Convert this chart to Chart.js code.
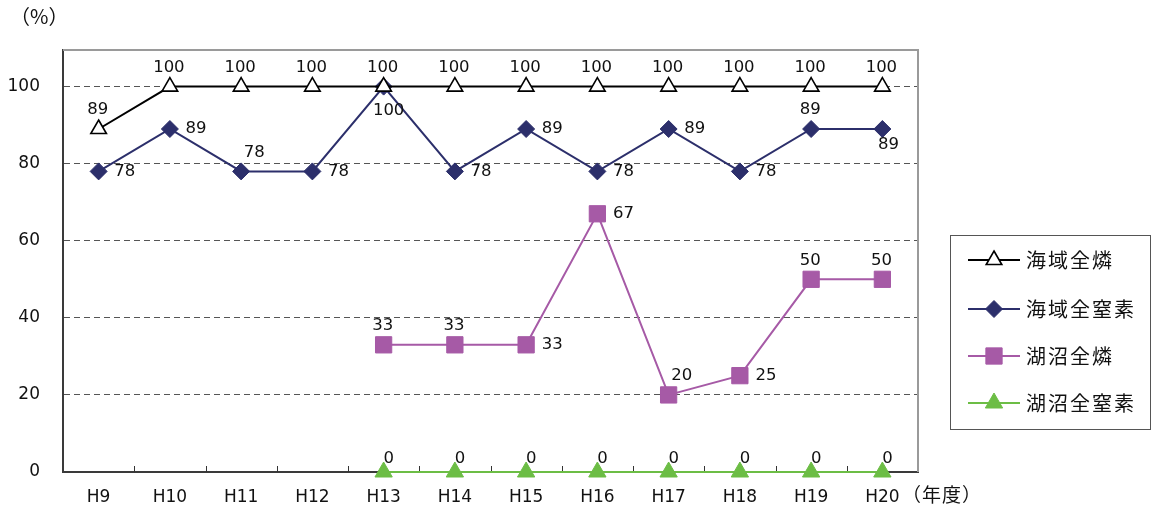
<!DOCTYPE html>
<html><head><meta charset="utf-8">
<script src="https://cdn.jsdelivr.net/npm/chart.js@4/dist/chart.umd.min.js"></script>
<style>html,body{margin:0;padding:0;background:#fff;}#wrap{position:relative;width:1155px;height:511px;}</style>
</head><body><div id="wrap"><canvas id="c" width="1155" height="511"></canvas></div>
<script>
// ---- data ----
const categories = ['H9','H10','H11','H12','H13','H14','H15','H16','H17','H18','H19','H20'];
const seriesNames = ['海域全燐','海域全窒素','湖沼全燐','湖沼全窒素'];
const seaP  = [89,100,100,100,100,100,100,100,100,100,100,100];
const seaN  = [78,89,78,78,100,78,89,78,89,78,89,89];
const lakeP = [null,null,null,null,33,33,33,67,20,25,50,50];
const lakeN = [null,null,null,null,0,0,0,0,0,0,0,0];
const yTickValues = [0,20,40,60,80,100];
const yUnitLabel = '（%）';
const xUnitLabel = '（年度）';
// label placement codes per point
const seaPPos  = ['t','t','t','t','t','t','t','t','t','t','t','t'];
const seaNPos  = ['r','r','tr','r','b','r','r','r','r','r','t','br'];
const lakePPos = [null,null,null,null,'t','t','r','r','tr','r','t','t'];
const lakeNPos = [null,null,null,null,'z','z','z','z','z','z','z','z'];

const FONT = '"Noto Sans CJK JP", "Noto Sans", sans-serif';
const NUMFONT = '"DejaVu Sans", sans-serif';
const OFF = {t:[-1,-19], r:[26,0], tr:[13,-19], b:[5,24], br:[6,16], z:[5,-13]};
const labelPos = [seaPPos, seaNPos, lakePPos, lakeNPos];

const styles = [
  {color:'#000000', style:'triangle', fill:'#ffffff', radius:9, bw:1.6},
  {color:'#2c2f6b', style:'rectRot', fill:'#2c2f6b', radius:8.5, bw:1},
  {color:'#a65aa6', style:'rect', fill:'#a65aa6', radius:11.5, bw:1},
  {color:'#6cbd45', style:'triangle', fill:'#6cbd45', radius:10, bw:1}
];
const values = [seaP, seaN, lakeP, lakeN];

function drawMarker(ctx, s, x, y){
  ctx.save();
  ctx.fillStyle = s.fill; ctx.strokeStyle = s.color; ctx.lineWidth = s.bw;
  ctx.beginPath();
  const r = s.radius;
  if (s.style === 'triangle'){
    ctx.moveTo(x, y - r);
    ctx.lineTo(x + r*Math.sin(2*Math.PI/3), y - r*Math.cos(2*Math.PI/3));
    ctx.lineTo(x - r*Math.sin(2*Math.PI/3), y - r*Math.cos(2*Math.PI/3));
  } else if (s.style === 'rectRot'){
    ctx.moveTo(x, y - r); ctx.lineTo(x + r, y); ctx.lineTo(x, y + r); ctx.lineTo(x - r, y);
  } else {
    const h = r*Math.SQRT1_2;
    ctx.rect(x-h, y-h, 2*h, 2*h);
  }
  ctx.closePath(); ctx.fill(); ctx.stroke();
  ctx.restore();
}

const extras = {
  id:'extras',
  beforeDatasetsDraw(chart){
    const {ctx, chartArea:a, scales:{x}} = chart;
    ctx.save();
    ctx.strokeStyle = '#9a9a9a'; ctx.lineWidth = 2;
    ctx.beginPath();
    ctx.moveTo(a.left, a.top); ctx.lineTo(a.right, a.top); ctx.lineTo(a.right, a.bottom);
    ctx.stroke();
    ctx.strokeStyle = '#333'; ctx.lineWidth = 1;
    for (let i = 1; i < categories.length; i++){
      const px = Math.round((x.getPixelForValue(i-1) + x.getPixelForValue(i))/2) + 0.5;
      ctx.beginPath(); ctx.moveTo(px, a.bottom); ctx.lineTo(px, a.bottom - 6); ctx.stroke();
    }
    ctx.restore();
  },
  afterDatasetsDraw(chart){
    const ctx = chart.ctx;
    ctx.save();
    ctx.font = '16.5px ' + NUMFONT;
    ctx.fillStyle = '#111';
    ctx.textAlign = 'center'; ctx.textBaseline = 'middle';
    chart.data.datasets.forEach((ds, di) => {
      const meta = chart.getDatasetMeta(di);
      meta.data.forEach((pt, i) => {
        const v = ds.data[i];
        if (v === null || v === undefined) return;
        const o = OFF[labelPos[di][i]] || OFF.t;
        ctx.fillText(String(v), pt.x + o[0], pt.y + o[1]);
      });
    });
    ctx.font = '20px ' + FONT;
    ctx.textAlign = 'left';
    ctx.fillText(yUnitLabel, 10, 16);
    ctx.font = '19px ' + FONT;
    try { ctx.letterSpacing = '1px'; } catch(e){}
    ctx.fillText(xUnitLabel, 902, 495);
    try { ctx.letterSpacing = '0px'; } catch(e){}
    // legend
    const bx = 950.5, by = 235.5, bw = 200, bh = 194;
    ctx.strokeStyle = '#555'; ctx.lineWidth = 1;
    ctx.strokeRect(bx, by, bw, bh);
    const rows = [260, 309, 356, 403];
    ctx.font = '20px ' + FONT;
    ctx.textBaseline = 'middle';
    try { ctx.letterSpacing = '2px'; } catch(e){}
    seriesNames.forEach((name, i) => {
      const s = styles[i], y = rows[i];
      ctx.strokeStyle = s.color; ctx.lineWidth = 2;
      ctx.beginPath(); ctx.moveTo(968, y); ctx.lineTo(1020, y); ctx.stroke();
      drawMarker(ctx, s, 994, y);
      ctx.fillStyle = '#111';
      ctx.fillText(name, 1026, y);
    });
    ctx.restore();
  }
};

const datasets = values.map((v, i) => ({
  label: seriesNames[i],
  data: v,
  borderColor: styles[i].color,
  backgroundColor: styles[i].fill,
  borderWidth: 2,
  pointStyle: styles[i].style,
  pointRadius: styles[i].radius,
  pointHoverRadius: styles[i].radius,
  pointBorderColor: styles[i].color,
  pointBackgroundColor: styles[i].fill,
  pointBorderWidth: styles[i].bw,
  tension: 0,
  spanGaps: false,
  clip: false
}));

new Chart(document.getElementById('c'), {
  type: 'line',
  data: { labels: categories, datasets },
  options: {
    responsive: false, animation: false, devicePixelRatio: 1,
    layout: { padding: { left: 0, right: 237, top: 50, bottom: 0 } },
    plugins: { legend: { display: false }, tooltip: { enabled: false } },
    scales: {
      x: {
        offset: true,
        grid: { display: false, drawTicks: false },
        border: { color: '#3a3a3a', width: 2 },
        ticks: { font: { size: 17, family: NUMFONT }, color: '#111', padding: 15 },
        afterFit(s){ s.height = 39; }
      },
      y: {
        min: 0, max: 109.5,
        afterBuildTicks(s){ s.ticks = yTickValues.map(v => ({value: v})); },
        ticks: { font: { size: 17, family: NUMFONT }, color: '#111', padding: 23 },
        grid: { drawTicks: false, color: c => (c.tick && c.tick.value > 0 && c.tick.value <= 100) ? '#555' : 'transparent', lineWidth: 1 },
        border: { color: '#3a3a3a', width: 2, dash: [6,4] },
        afterFit(s){ s.width = 63; }
      }
    }
  },
  plugins: [extras]
});
</script></body></html>
